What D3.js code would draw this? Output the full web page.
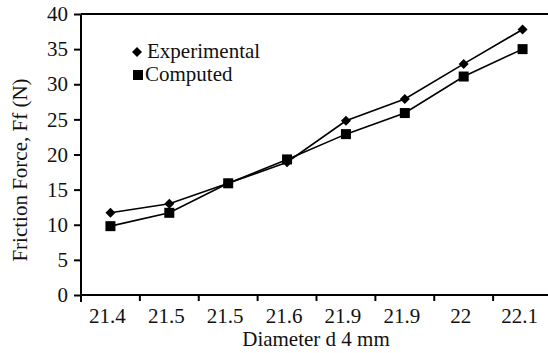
<!DOCTYPE html>
<html><head><meta charset="utf-8">
<script src="https://cdn.jsdelivr.net/npm/d3@7"></script>
<style>body{margin:0;background:#fff}svg{display:block}</style>
</head><body>
<script>
const categories = ["21.4","21.5","21.5","21.6","21.9","21.9","22","22.1"];
const experimental = [11.7,13.0,15.9,18.9,24.8,27.9,32.9,37.8];
const computed = [9.8,11.7,15.9,19.3,22.9,25.9,31.1,35.0];
const yTicks = [0,5,10,15,20,25,30,35,40];
const seriesNames = ["Experimental","Computed"];

(function(){
const W=548,H=353,FS=21,FF="Liberation Serif";
const svg=d3.select("body").append("svg").attr("width",W).attr("height",H)
  .attr("font-family",FF).attr("font-size",FS);
const pL=81, pR=552, pT=14, pB=295;
const idx=categories.map((d,i)=>i);
const x=d3.scaleBand().domain(idx).range([pL,pR]);
const y=d3.scaleLinear().domain([0,40]).range([pB,pT]);

svg.append("line").attr("x1",pL).attr("x2",W).attr("y1",pT).attr("y2",pT).attr("stroke","#000").attr("stroke-width",2);

const ya=svg.append("g").attr("transform",`translate(${pL},0)`)
 .call(d3.axisLeft(y).tickValues(yTicks).tickSize(7).tickPadding(6));
ya.attr("font-family",FF).attr("font-size",FS);
ya.select(".domain").attr("d",`M0,${pT}V${pB+7}`).attr("stroke-width",2);
ya.selectAll(".tick line").attr("stroke-width",2);
ya.selectAll("text").attr("fill","#111");

const xa=svg.append("g").attr("transform",`translate(0,${pB})`)
 .call(d3.axisBottom(x).tickFormat(i=>categories[i]).tickSize(0).tickPadding(13));
xa.attr("font-family",FF).attr("font-size",FS);
xa.select(".domain").attr("d",`M${pL},0H${W}`).attr("stroke-width",2);
xa.selectAll("text").attr("fill","#111").attr("dx",-3);
svg.append("g").selectAll("line").data(idx.slice(1)).join("line")
 .attr("x1",i=>x(i)).attr("x2",i=>x(i)).attr("y1",pB).attr("y2",pB+6)
 .attr("stroke","#000").attr("stroke-width",2);

const cx=i=>x(i)+x.bandwidth()/2;
const line=d3.line().x((d,i)=>cx(i)).y(d=>y(d));
[experimental,computed].forEach(s=>{
  svg.append("path").attr("d",line(s)).attr("fill","none").attr("stroke","#000").attr("stroke-width",1.6);
});
const diamond=d3.symbol().type(d3.symbolSquare).size(50);
svg.append("g").selectAll("path").data(experimental).join("path")
 .attr("d",diamond).attr("transform",(d,i)=>`translate(${cx(i)},${y(d)}) rotate(45)`).attr("fill","#000");
svg.append("g").selectAll("rect").data(computed).join("rect")
 .attr("x",(d,i)=>cx(i)-5).attr("y",d=>y(d)-5).attr("width",10).attr("height",10).attr("fill","#000");

svg.append("path").attr("d",diamond).attr("transform","translate(137,52) rotate(45)").attr("fill","#000");
svg.append("text").attr("x",147).attr("y",58).attr("fill","#111").text(seriesNames[0]);
svg.append("rect").attr("x",133).attr("y",70).attr("width",10).attr("height",10).attr("fill","#000");
svg.append("text").attr("x",145).attr("y",81).attr("fill","#111").text(seriesNames[1]);

svg.append("text").attr("x",316).attr("y",346).attr("text-anchor","middle").attr("fill","#111").text("Diameter d 4 mm");
svg.append("text").attr("transform","translate(27,170) rotate(-90)").attr("text-anchor","middle").attr("fill","#111").text("Friction Force, Ff (N)");
})();
</script>
</body></html>
